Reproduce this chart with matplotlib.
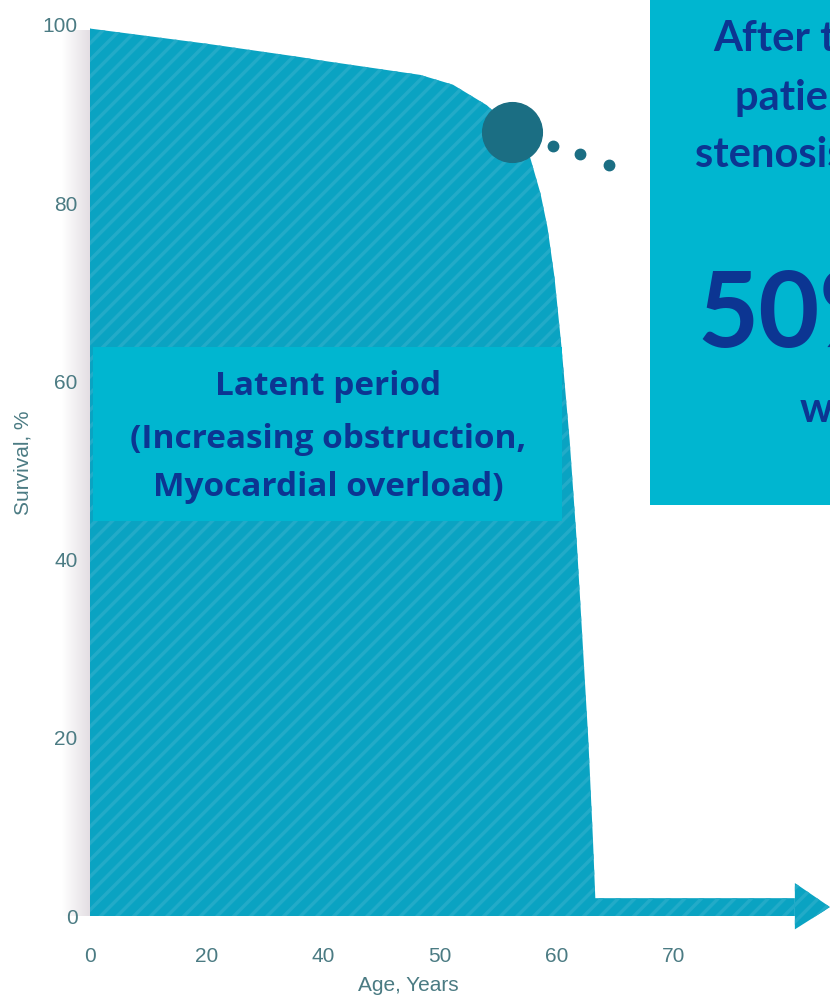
import numpy as np
import matplotlib
matplotlib.use('Agg')
import matplotlib.pyplot as plt
from matplotlib.patches import Polygon, Rectangle
from matplotlib.colors import LinearSegmentedColormap

# survival curve (x = tick slot index, y = %)
age_pos = [0, 1.0, 1.80, 1.99, 2.83, 3.11, 3.40, 3.62, 3.77, 3.86, 3.92, 3.98,
           4.04, 4.11, 4.17, 4.22, 4.27, 4.31, 4.33, 6.04]
survival = [99.6, 97.9, 96.4, 96.0, 94.4, 93.3, 91.0, 88.4, 85.2, 81.1, 77.3, 71.7,
            63.9, 53.4, 42.2, 31.0, 19.8, 8.5, 2.0, 2.0]

tick_pos = [0, 1, 2, 3, 4, 5]
tick_labels = ['0', '20', '40', '50', '60', '70']
y_ticks = [0, 20, 40, 60, 80, 100]

# marker on the curve and the trailing dots
onset_x, onset_y = 3.62, 88.0
dots_x = [3.97, 4.20, 4.45]
dots_y = [86.4, 85.5, 84.3]

left_lines = ['Latent period', '(Increasing obstruction,', 'Myocardial overload)']
right_lines = ['After the onset of symptoms,', 'patients with severe aortic',
               'stenosis have a poor prognosis:', '50%', 'will die within 2 years']

fill_col = '#0aa3c2'
stripe_col = '#22abc8'
box_col = '#00b6d0'
text_col = '#0c3592'
dark_col = '#1b6e83'
tick_col = '#4b7b83'

plt.rcParams['hatch.linewidth'] = 2.5

W, H = 830, 999
fig = plt.figure(figsize=(W / 100, H / 100), dpi=100)

# soft shadow left of the y axis
sh = fig.add_axes([62 / W, (H - 916) / H, 28 / W, (916 - 30) / H])
grad = np.linspace(0, 1, 60).reshape(1, -1)
sh.imshow(grad, aspect='auto', cmap=LinearSegmentedColormap.from_list('s', ['#ffffff', '#e2dde2']))
sh.axis('off')

ax = fig.add_axes([90 / W, (H - 916) / H, (W - 90) / W, (916 - 25) / H])
ax.set_xlim(0, (W - 90) / 116.7)
ax.set_ylim(0, 100)

ax.fill_between(age_pos, survival, 0, facecolor=fill_col, edgecolor=stripe_col,
                hatch='//', linewidth=0, zorder=2)

# arrow head at the end of the axis
tip = (W - 90) / 116.7
ax.add_patch(Polygon([[6.04, 3.7], [tip, 1.0], [6.04, -1.5]], closed=True,
                     facecolor=fill_col, edgecolor=stripe_col, hatch='//',
                     linewidth=0, clip_on=False, zorder=2))

ax.plot(onset_x, onset_y, 'o', ms=43, color=dark_col, zorder=4, clip_on=False)
ax.plot(dots_x, dots_y, 'o', ms=7.5, color=dark_col, linestyle='none', zorder=4)

# latent period box
ax.add_patch(Rectangle((0.026, 44.3), 4.02, 19.6, facecolor=box_col,
                       edgecolor='none', zorder=3))
for txt, yb in zip(left_lines, [395, 448, 496]):
    ax.text(2.04, (916 - yb) / 8.91, txt, ha='center', va='baseline',
            fontsize=24, fontweight='bold', family='Open Sans', color=text_col, zorder=5)

# right-hand text box (runs off the edge)
fig.patches.append(Rectangle((650 / W, (H - 505) / H), 1, 1, facecolor=box_col,
                             edgecolor='none', transform=fig.transFigure, zorder=3))
right_x = [713, 735, 695, 697, 800]
right_y = [51, 110, 166, 347, 422]
right_fs = [30, 30, 30, 76, 30]
for txt, x, y, fs in zip(right_lines, right_x, right_y, right_fs):
    fig.text(x / W, (H - y) / H, txt, ha='left', va='baseline', fontsize=fs,
             fontweight='bold', family='Lato', color=text_col, zorder=5)

ax.set_xticks(tick_pos)
ax.set_xticklabels(tick_labels)
ax.set_yticks(y_ticks)
ax.tick_params(axis='both', length=0, labelsize=15, labelcolor=tick_col)
ax.tick_params(axis='x', pad=22)
ax.tick_params(axis='y', pad=9)
for lab in ax.get_xticklabels() + ax.get_yticklabels():
    lab.set_family('Liberation Sans')
for s in ax.spines.values():
    s.set_visible(False)

ax.set_xlabel('Age, Years', fontsize=15, color=tick_col, family='Liberation Sans')
ax.xaxis.set_label_coords((408 - 90) / (W - 90), -(976 - 916) / (916 - 25))
ax.set_ylabel('Survival, %', fontsize=15, color=tick_col, family='Liberation Sans')
ax.yaxis.set_label_coords(-(90 - 33) / (W - 90), (916 - 463) / (916 - 25))

fig.savefig('out.png', dpi=100)
